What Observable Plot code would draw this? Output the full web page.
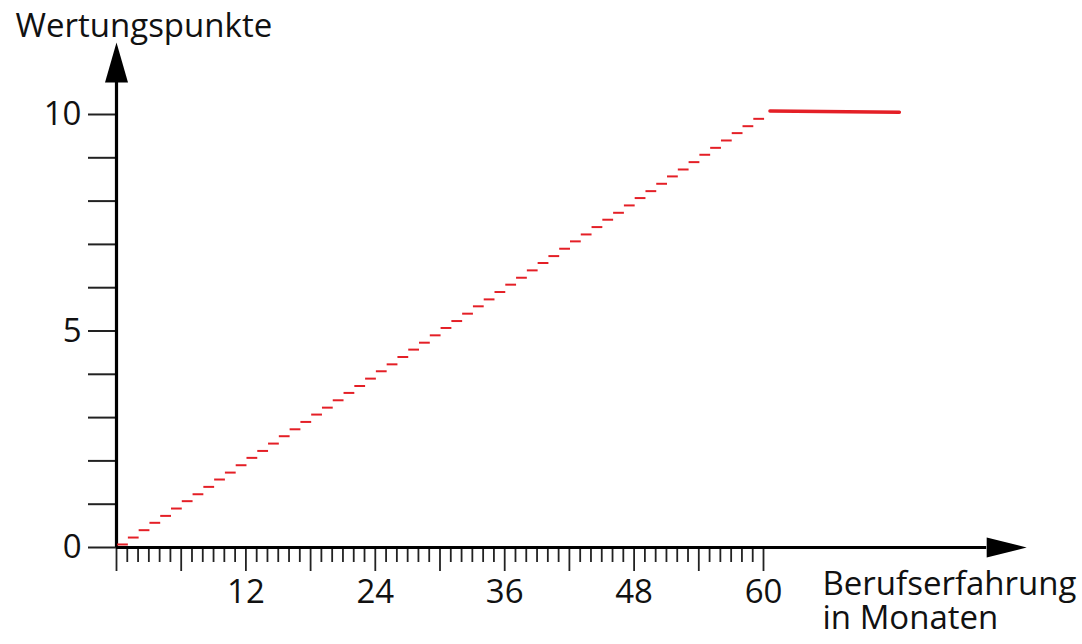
<!DOCTYPE html>
<html>
<head>
<meta charset="utf-8">
<script src="https://cdn.jsdelivr.net/npm/d3@7"></script>
<script src="https://cdn.jsdelivr.net/npm/@observablehq/plot@0.6"></script>
<style>
  html, body { margin: 0; padding: 0; background: #fff; }
  #chart { width: 1082px; height: 644px; }
</style>
</head>
<body>
<div id="chart"></div>
<script>
// Step dashes: one per month (0..59), value in points
const months = d3.range(0, 60);
const points = [
  0.07, 0.23, 0.40, 0.57, 0.73, 0.90, 1.07, 1.23, 1.40, 1.57, 1.73, 1.90,
  2.07, 2.23, 2.40, 2.57, 2.73, 2.90, 3.07, 3.23, 3.40, 3.57, 3.73, 3.90,
  4.07, 4.23, 4.40, 4.57, 4.73, 4.90, 5.07, 5.23, 5.40, 5.57, 5.73, 5.90,
  6.07, 6.23, 6.40, 6.57, 6.73, 6.90, 7.07, 7.23, 7.40, 7.57, 7.73, 7.90,
  8.07, 8.23, 8.40, 8.57, 8.73, 8.90, 9.07, 9.23, 9.40, 9.57, 9.73, 9.90
];
// Plateau after 60 months
const plateauX = [60.6, 72.6];
const plateauY = [10.08, 10.05];

const yTicks = d3.range(0, 11);
const yLabels = [0, 5, 10];
const xMinorTicks = d3.range(1, 61).filter(m => m % 6 !== 0);
const xMajorTicks = d3.range(0, 61, 6);
const xLabels = [12, 24, 36, 48, 60];

// Axis extents (data units)
const yArrowAt = 10.74;
const xArrowAt = 80.7;

const dashes = months.map((m, i) => ({month: m, value: points[i]}));
const plateau = plateauX.map((x, i) => ({x, y: plateauY[i]}));

const arrowUp = {draw(ctx) { ctx.moveTo(0, -40); ctx.lineTo(11.5, 0); ctx.lineTo(-11.5, 0); ctx.closePath(); }};
const arrowRight = {draw(ctx) { ctx.moveTo(40, 0); ctx.lineTo(0, -10); ctx.lineTo(0, 10); ctx.closePath(); }};

const FONT = "Open Sans";
const red = "#e41f26";

const chart = Plot.plot({
  width: 1082,
  height: 644,
  marginTop: 114, marginRight: 319, marginBottom: 97, marginLeft: 116,
  style: {fontFamily: FONT, background: "white", color: "#111", overflow: "visible"},
  x: {domain: [0, 60]},
  y: {domain: [0, 10]},
  marks: [
    // y ticks
    Plot.axisY({ticks: yTicks, tickSize: 28, tickPadding: 7, strokeWidth: 2, stroke: "#222", label: null,
      tickFormat: d => yLabels.includes(d) ? String(d) : "", fontSize: 33, fill: "#111"}),
    // x minor ticks
    Plot.axisX({ticks: xMinorTicks, tickSize: 15, strokeWidth: 1.8, stroke: "#222", label: null, tickFormat: () => ""}),
    // x major ticks with labels
    Plot.axisX({ticks: xMajorTicks, tickSize: 24, tickPadding: 8, strokeWidth: 1.8, stroke: "#222", label: null,
      tickFormat: d => xLabels.includes(d) ? String(d) : "", fontSize: 33, fill: "#111"}),
    // axes lines
    Plot.ruleX([0], {y1: 0, y2: yArrowAt, stroke: "black", strokeWidth: 3.2}),
    Plot.ruleY([0], {x1: 0, x2: xArrowAt, stroke: "black", strokeWidth: 3.2}),
    Plot.dot([{x: 0, y: yArrowAt}], {x: "x", y: "y", symbol: arrowUp, fill: "black", stroke: "none"}),
    Plot.dot([{x: xArrowAt, y: 0}], {x: "x", y: "y", symbol: arrowRight, fill: "black", stroke: "none"}),
    // step dashes
    Plot.ruleY(dashes, {y: "value", x1: d => d.month + 0.1, x2: d => d.month + 1.1, stroke: red, strokeWidth: 2}),
    // plateau
    Plot.line(plateau, {x: "x", y: "y", stroke: red, strokeWidth: 3.5}),
    // titles
    Plot.text(["Wertungspunkte"], {frameAnchor: "top-left", dx: -101, dy: -78, lineAnchor: "bottom", textAnchor: "start", fontSize: 33, fill: "#111"}),
    Plot.text(["Berufserfahrung"], {frameAnchor: "top-left", dx: 706, dy: 480, lineAnchor: "bottom", textAnchor: "start", fontSize: 33, fill: "#111"}),
    Plot.text(["in Monaten"], {frameAnchor: "top-left", dx: 706, dy: 514, lineAnchor: "bottom", textAnchor: "start", fontSize: 33, fill: "#111"})
  ]
});
document.getElementById("chart").appendChild(chart);
</script>
</body>
</html>
